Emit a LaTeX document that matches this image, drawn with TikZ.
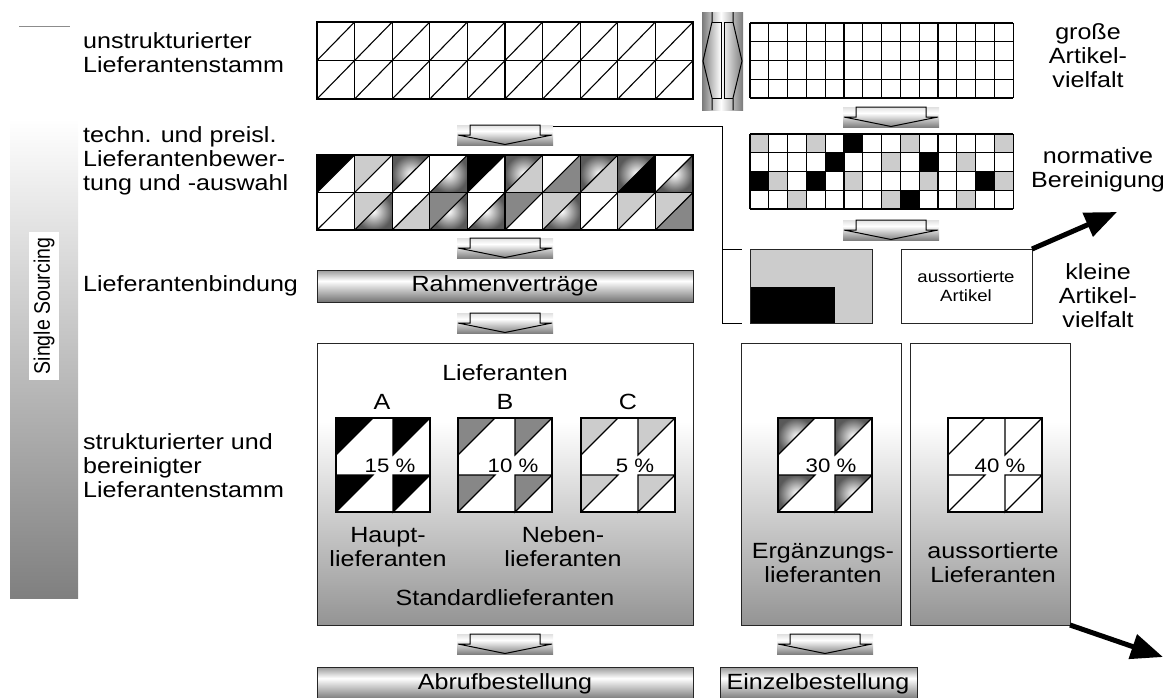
\documentclass[tikz,border=0pt]{standalone}
\usepackage{fontspec}
\setmainfont{Liberation Sans}[FakeStretch=1.14]
\newfontfamily\plainsans{Liberation Sans}
\usetikzlibrary{arrows.meta}
\newcommand\mainf{\fontsize{22}{24}\selectfont}
\newcommand\pctf{\fontsize{19.5}{22}\selectfont}
\newcommand\smallf{\fontsize{16.3}{19}\selectfont}
\pgfdeclareverticalshading{boxsh}{100bp}{color(0bp)=(black!42); color(25bp)=(black!42); color(61bp)=(white); color(75bp)=(white); color(100bp)=(white)}
\pgfdeclareverticalshading{leftsh}{100bp}{color(0bp)=(black!50); color(25bp)=(black!50); color(67bp)=(white); color(75bp)=(white); color(100bp)=(white)}
\pgfdeclareverticalshading{barsh}{100bp}{color(0bp)=(black!55); color(25bp)=(black!55); color(58bp)=(white); color(75bp)=(black!40); color(100bp)=(black!40)}
\pgfdeclareverticalshading{arrsh}{100bp}{color(0bp)=(black!50); color(25bp)=(black!50); color(60bp)=(white); color(75bp)=(black!12); color(100bp)=(black!12)}
\pgfdeclarehorizontalshading{cylh}{100bp}{color(0bp)=(black!52); color(25bp)=(black!52); color(48bp)=(white); color(75bp)=(black!52); color(100bp)=(black!52)}
% grid-2 cell: col,row,UL style,LR style
\newcommand\tc[4]{%
 \path[#3] ({317+#1*37.6},{155+#2*37.5}) -- ++(37.6,0) -- ++(-37.6,37.5) -- cycle;
 \path[#4] ({317+(#1+1)*37.6},{155+#2*37.5}) -- ++(0,37.5) -- ++(-37.6,0) -- cycle;}
% supplier square: x0,y0,style
\newcommand\sqq[3]{%
 \fill[white] (#1,#2) rectangle ++(94,94);
 \path[#3] (#1,#2) -- ++(37,0) -- ++(-37,37) -- cycle;
 \path[#3] ({#1+57},#2) -- ++(37,0) -- ++(-37,37) -- cycle;
 \path[#3] (#1,{#2+57}) -- ++(37,0) -- ++(-37,37) -- cycle;
 \path[#3] ({#1+57},{#2+57}) -- ++(37,0) -- ++(-37,37) -- cycle;
 \draw[gl] (#1,{#2+37}) -- ++(37,-37);
 \draw[gl] ({#1+57},#2) -- ++(0,37) -- ++(37,-37);
 \draw[gl] (#1,{#2+57}) -- ++(37,0) -- ++(-37,37);
 \draw[gl] ({#1+94},{#2+57}) -- ++(-37,0) -- ++(0,37) -- ++(37,-37);
 \draw[gl] (#1,#2) rectangle ++(94,94);}
\begin{document}
\begin{tikzpicture}[x=1pt,y=-1pt,line join=miter,
  every node/.style={inner sep=0pt,font=\mainf,align=center},
  gl/.style={line width=1.1pt},
  tw/.style={fill=white}, tk/.style={fill=black}, tl/.style={fill=black!20},
  tm/.style={fill=black!47}, tg/.style={inner color=white,outer color=black!65},
  bx/.style={draw=black!85,line width=1pt},
  thick arrow/.style={line width=5pt,-{Triangle[length=32pt,width=25pt]}},
  blk/.pic={
    \shade[shading=arrsh] (0,0) rectangle (96,20);
    \draw[line width=1pt] (13,0) -- (13,10) -- (1,10) -- (48,19.5) -- (95,10) -- (83,10) -- (83,0) -- cycle;}]
\useasboundingbox (0,0) rectangle (1169,697);

% left bar
\shade[shading=leftsh] (10,27) rectangle (78,598);
\draw[black!45,line width=0.8pt] (19,26) -- (70,26);
\node[rotate=90,fill=white,inner xsep=6pt,inner ysep=4.5pt,font=\plainsans\fontsize{19.5}{22}\selectfont] (ss) at (44,306) {\scalebox{1}[1.15]{Single Sourcing}};

% left labels
\node[anchor=west,align=left] (l1) at (83,53) {unstrukturierter\\Lieferantenstamm};
\node[anchor=west,align=left] (l2) at (83,161) {techn. und preisl.\\Lieferantenbewer-\\tung und -auswahl};
\node[anchor=west,align=left] (l3) at (83,286) {Lieferantenbindung};
\node[anchor=west,align=left] (l4) at (83,466) {strukturierter und\\bereinigter\\Lieferantenstamm};

% grid 1
\fill[white] (317,22) rectangle (693,99);
\foreach \i in {0,...,9} \foreach \j in {0,1} {
  \draw[gl] ({317+\i*37.6},{22+\j*38.5}) rectangle ++(37.6,38.5);
  \draw[gl] ({317+\i*37.6},{22+(\j+1)*38.5}) -- ++(37.6,-38.5);}

% middle connector
\shade[shading=cylh] (702,12) rectangle (743,110);
\draw[line width=1pt] (712,12) -- (712,22) -- (703,61) -- (712,98) -- (712,110);
\draw[line width=1pt] (733,12) -- (733,22) -- (742,61) -- (733,98) -- (733,110);
\draw[line width=1pt] (712,22) -- (721,22) -- (721,98) -- (712,98);
\draw[line width=1pt] (733,22) -- (724,22) -- (724,98) -- (733,98);

% top-right grid
\fill[white] (750,23) rectangle (1013,98);
\foreach \c in {0,...,14} \draw[gl] ({750+\c*18.8},23) -- ++(0,75);
\foreach \r in {0,...,4} \draw[gl] (750,{23+\r*18.75}) -- ++(263.2,0);
\node (r1) at (1088,56) {große\\Artikel-\\vielfalt};

% grid 2
\tc{0}{0}{tk}{tw} \tc{1}{0}{tl}{tw} \tc{2}{0}{tg}{tw} \tc{3}{0}{tw}{tg} \tc{4}{0}{tk}{tw}
\tc{5}{0}{tg}{tl} \tc{6}{0}{tw}{tm} \tc{7}{0}{tg}{tl} \tc{8}{0}{tg}{tk} \tc{9}{0}{tw}{tg}
\tc{0}{1}{tw}{tw} \tc{1}{1}{tl}{tg} \tc{2}{1}{tw}{tl} \tc{3}{1}{tm}{tg} \tc{4}{1}{tw}{tg}
\tc{5}{1}{tm}{tw} \tc{6}{1}{tl}{tg} \tc{7}{1}{tw}{tw} \tc{8}{1}{tl}{tw} \tc{9}{1}{tl}{tm}
\foreach \i in {0,...,9} \foreach \j in {0,1} {
  \draw[gl] ({317+\i*37.6},{155+\j*37.5}) rectangle ++(37.6,37.5);
  \draw[gl] ({317+\i*37.6},{155+(\j+1)*37.5}) -- ++(37.6,-37.5);}

% normative grid
\fill[white] (750,134) rectangle (1013,209);
\foreach \c/\r/\f in {0/0/black!20,3/0/black!20,8/0/black!20,13/0/black!20,5/0/black,
  4/1/black,9/1/black,7/1/black!20,11/1/black!20,
  0/2/black,3/2/black,12/2/black,1/2/black!20,5/2/black!20,9/2/black!20,13/2/black!20,
  2/3/black!20,7/3/black!20,11/3/black!20,8/3/black}
  \fill[fill=\f] ({750+\c*18.8},{134+\r*18.75}) rectangle ++(18.8,18.75);
\foreach \c in {0,...,14} \draw[gl] ({750+\c*18.8},134) -- ++(0,75);
\foreach \r in {0,...,4} \draw[gl] (750,{134+\r*18.75}) -- ++(263.2,0);
\node (r2) at (1098,170) {normative\\Bereinigung};

% block arrows
\pic at (457,125) {blk};
\pic at (457,238) {blk};
\pic at (457,313) {blk};
\pic at (457,634) {blk};
\pic at (777,634) {blk};
\pic at (843,107) {blk};
\pic at (843,220) {blk};

% bracket connector
\coordinate (b0) at (553,126);
\coordinate (b1) at (722,126);
\coordinate (b2) at (722,323);
\coordinate (b3) at (722,249);
\coordinate (t1) at (742,249);
\coordinate (t2) at (742,323);
\draw[line width=1pt] (b0) -- (b1) -- (b2) -- (t2);
\draw[line width=1pt] (b3) -- (t1);

% small boxes
\draw[bx,fill=black!20] (750,249) rectangle (872,323);
\fill[black] (750,287) rectangle (835,323);
\draw[bx] (750,249) rectangle (872,323);
\draw[bx,fill=white] (901,249) rectangle (1032,323);
\node[font=\smallf] (aa) at (966,286) {aussortierte\\Artikel};
\node (r3) at (1098,296) {kleine\\Artikel-\\vielfalt};
\coordinate (c1) at (1032,249);
\coordinate (c2) at (1117,212);
\draw[thick arrow] (c1) -- (c2);

% Rahmenvertraege
\shade[shading=barsh] (317,270) rectangle (693,302);
\draw[bx] (317,270) rectangle (693,302);
\node (rv) at (505,286) {Rahmenverträge};

% bottom boxes
\shade[shading=boxsh] (317,343) rectangle (693,625);
\draw[bx] (317,343) rectangle (693,625);
\shade[shading=boxsh] (741,343) rectangle (901,625);
\draw[bx] (741,343) rectangle (901,625);
\shade[shading=boxsh] (910,343) rectangle (1070,625);
\draw[bx] (910,343) rectangle (1070,625);

\node (lf) at (505,373) {Lieferanten};
\node (A) at (382,402) {A};
\node (B) at (505,402) {B};
\node (C) at (628,402) {C};
\sqq{336}{418}{tk}
\sqq{458}{418}{tm}
\sqq{581}{418}{tl}
\sqq{778}{418}{tg}
\sqq{948}{418}{tw}
\node[font=\pctf] (p15) at (390,466) {15 \%};
\node[font=\pctf] (p10) at (513,466) {10 \%};
\node[font=\pctf] (p5) at (635,466) {5 \%};
\node[font=\pctf] (p30) at (831,466) {30 \%};
\node[font=\pctf] (p40) at (1000,466) {40 \%};
\node (hl) at (388,547) {Haupt-\\lieferanten};
\node (nl) at (563,547) {Neben-\\lieferanten};
\node (sl) at (505,598) {Standardlieferanten};
\node (el) at (823,563) {Ergänzungs-\\lieferanten};
\node (al) at (993,563) {aussortierte\\Lieferanten};
\coordinate (d1) at (1070,625);
\coordinate (d2) at (1163,657);
\draw[thick arrow] (d1) -- (d2);

% bottom bars
\shade[shading=barsh] (317,667) rectangle (693,700);
\draw[bx] (317,667) rectangle (693,700);
\node (ab) at (505,684) {Abrufbestellung};
\shade[shading=barsh] (720,667) rectangle (917,700);
\draw[bx] (720,667) rectangle (917,700);
\node (eb) at (818,684) {Einzelbestellung};
\end{tikzpicture}
\end{document}
